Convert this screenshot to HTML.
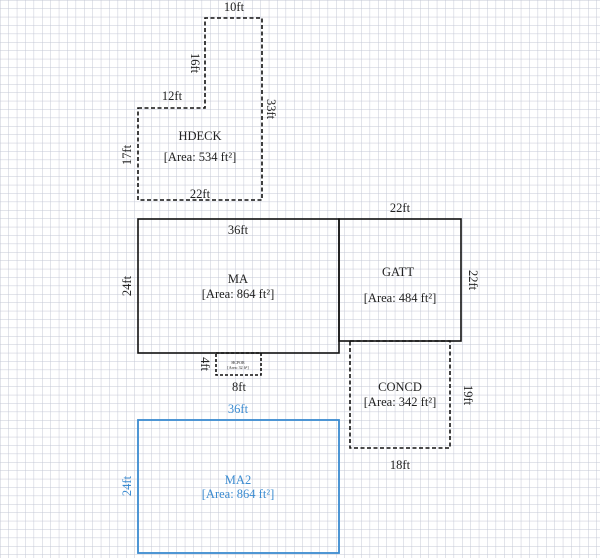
<!DOCTYPE html>
<html><head><style>
html,body{margin:0;padding:0;background:#fff;}
svg{display:block;}
text{font-family:"Liberation Serif",serif;font-size:12.5px;fill:#222;}
</style></head><body>
<svg width="600" height="558" viewBox="0 0 600 558" xmlns="http://www.w3.org/2000/svg">
<defs>
<pattern id="g" x="0.5" y="0.5" width="8.4" height="8.4" patternUnits="userSpaceOnUse">
<path d="M8.4 0V8.4M0 8.4H8.4" stroke="#c4c8d6" stroke-width="1" fill="none"/>
</pattern>
</defs>
<rect width="600" height="558" fill="#fff"/>
<rect width="600" height="558" fill="url(#g)"/>
<g fill="none" stroke="#111" stroke-width="1.6">
<polygon points="138,108 205,108 205,18 262,18 262,200 138,200" stroke-dasharray="4,2.5"/>
<rect x="138" y="219" width="201" height="134"/>
<rect x="339" y="219" width="122" height="122"/>
<rect x="350" y="341" width="100" height="107" stroke-dasharray="4,2.5"/>
<rect x="216" y="353" width="45" height="22" stroke-dasharray="3,2"/>
<rect x="138" y="420" width="201" height="133" stroke="#3b8bd0" stroke-width="1.8"/>
</g>
<text x="234" y="11" text-anchor="middle">10ft</text>
<text x="172" y="100" text-anchor="middle">12ft</text>
<text x="200" y="198" text-anchor="middle">22ft</text>
<text transform="translate(191,63) rotate(90)" text-anchor="middle">16ft</text>
<text transform="translate(267,109) rotate(90)" text-anchor="middle">33ft</text>
<text transform="translate(131,155) rotate(-90)" text-anchor="middle">17ft</text>
<text x="200" y="140" text-anchor="middle">HDECK</text>
<text x="200" y="161" text-anchor="middle">[Area: 534 ft²]</text>
<text x="238" y="234" text-anchor="middle">36ft</text>
<text transform="translate(131,286) rotate(-90)" text-anchor="middle">24ft</text>
<text x="238" y="283" text-anchor="middle">MA</text>
<text x="238" y="298" text-anchor="middle">[Area: 864 ft²]</text>
<text x="400" y="212" text-anchor="middle">22ft</text>
<text transform="translate(469,280) rotate(90)" text-anchor="middle">22ft</text>
<text x="398" y="276" text-anchor="middle">GATT</text>
<text x="400" y="302" text-anchor="middle">[Area: 484 ft²]</text>
<text transform="translate(201,364) rotate(90)" text-anchor="middle">4ft</text>
<text x="239" y="391" text-anchor="middle">8ft</text>
<text x="238" y="364" text-anchor="middle" style="font-size:4px">HCPOR</text>
<text x="238" y="369" text-anchor="middle" style="font-size:4px">[Area: 32 ft²]</text>
<text x="400" y="391" text-anchor="middle">CONCD</text>
<text x="400" y="406" text-anchor="middle">[Area: 342 ft²]</text>
<text transform="translate(464,395) rotate(90)" text-anchor="middle">19ft</text>
<text x="400" y="469" text-anchor="middle">18ft</text>
<text x="238" y="413" text-anchor="middle" style="fill:#3b8bd0">36ft</text>
<text transform="translate(131,486) rotate(-90)" text-anchor="middle" style="fill:#3b8bd0">24ft</text>
<text x="238" y="484" text-anchor="middle" style="fill:#3b8bd0">MA2</text>
<text x="238" y="498" text-anchor="middle" style="fill:#3b8bd0">[Area: 864 ft²]</text>
</svg>
</body></html>
